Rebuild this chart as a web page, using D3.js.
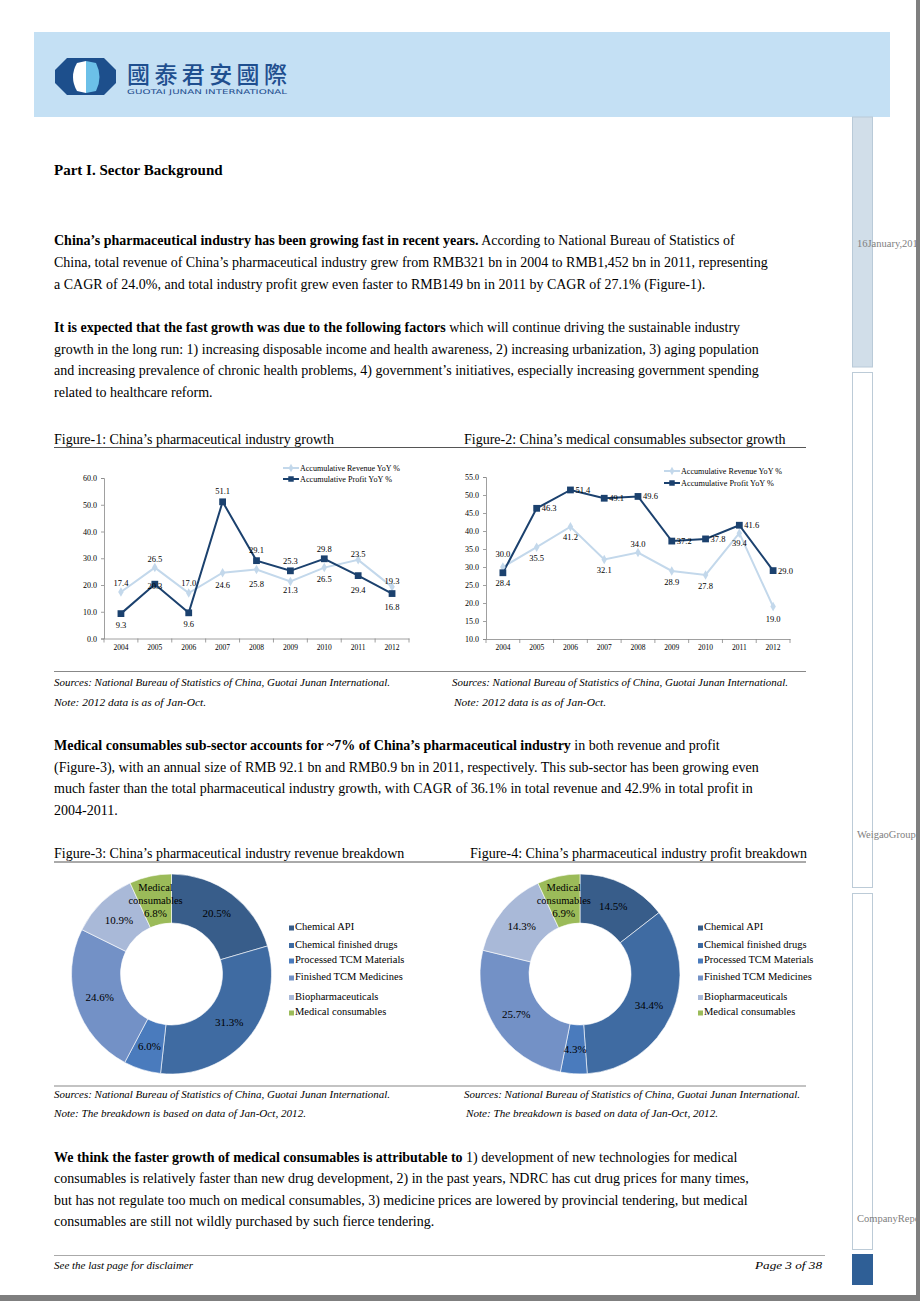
<!DOCTYPE html>
<html><head><meta charset="utf-8">
<script src="https://cdn.jsdelivr.net/npm/d3@7"></script>
<style>body{margin:0;background:#fff}svg{display:block}</style>
</head><body><svg id="page" width="920" height="1301"></svg>
<script>
// ---------------- DATA ----------------
const years = ["2004","2005","2006","2007","2008","2009","2010","2011","2012"];
const fig1Revenue = [17.4,26.5,17.0,24.6,25.8,21.3,26.5,29.4,19.3];
const fig1Profit  = [9.3,20.3,9.6,51.1,29.1,25.3,29.8,23.5,16.8];
const fig1Ticks   = [0,10,20,30,40,50,60];
const fig2Revenue = [30.0,35.5,41.2,32.1,34.0,28.9,27.8,39.4,19.0];
const fig2Profit  = [28.4,46.3,51.4,49.1,49.6,37.2,37.8,41.6,29.0];
const fig2Ticks   = [10,15,20,25,30,35,40,45,50,55];
const seriesNames = ["Accumulative Revenue YoY %","Accumulative Profit YoY %"];
const segments = ["Chemical API","Chemical finished drugs","Processed TCM Materials","Finished TCM Medicines","Biopharmaceuticals","Medical consumables"];
const revenueShare = [20.5,31.3,6.0,24.6,10.9,6.8];
const profitShare  = [14.5,34.4,4.3,25.7,14.3,6.9];

// label placement (layout only)
const fig1RevLbl = [[0,-9],[0,-9],[0,-10],[0,12],[0,15],[0,9],[0,11],[0,30],[0,-6]];
const fig1ProLbl = [[0,11],[0,2],[0,11],[0,-11],[0,-11],[0,-10],[0,-10],[0,-22],[0,13]];
const fig2RevLbl = [[0,-13],[0,11],[0,10],[0,11],[0,-9],[0,11],[0,11],[0,10],[0,12]];
const fig2ProLbl = [[0,10],[5,0],[5,0],[5,0],[5,0],[5,0],[5,0],[5,0],[5,0]];

const SERIF = "'Liberation Serif','Times New Roman',serif";
const svg = d3.select("#page");

// ---------------- PAGE FRAME ----------------
svg.append("rect").attr("x",0).attr("y",0).attr("width",920).attr("height",1301).attr("fill","#fff");
svg.append("rect").attr("x",916).attr("y",0).attr("width",4).attr("height",1301).attr("fill","#7f7f7f");
svg.append("rect").attr("x",0).attr("y",1295).attr("width",920).attr("height",6).attr("fill","#7f7f7f");

// header band
svg.append("rect").attr("x",34).attr("y",32).attr("width",856).attr("height",85).attr("fill","#c4e0f4");
// logo
const logo = svg.append("g");
logo.append("polygon").attr("points","67,58 104,58 116,70 116,83 104,95 67,95 55,83 55,70").attr("fill","#1d4f8c");
logo.append("path").attr("d","M86,61 L77,63 Q69,77 77,91 L86,93 Z").attr("fill","#ffffff");
logo.append("path").attr("d","M86,61 L96,63 Q103,77 96,91 L86,93 Z").attr("fill","#6cc0e8");
svg.append("text").attr("x",127).attr("y",82.5).attr("font-family","'Noto Sans CJK TC','Noto Sans CJK SC',sans-serif")
  .attr("font-size",23).attr("font-weight",500).attr("fill","#1f4f8f").attr("textLength",160).attr("lengthAdjust","spacing")
  .text("國泰君安國際");
svg.append("text").attr("x",127).attr("y",94).attr("font-family","'DejaVu Sans',sans-serif")
  .attr("font-size",6.5).attr("fill","#1f4f8f").attr("textLength",160).attr("lengthAdjust","spacingAndGlyphs")
  .text("GUOTAI JUNAN INTERNATIONAL");

// sidebar
svg.append("rect").attr("x",852.5).attr("y",117).attr("width",20).attr("height",250).attr("fill","#d1dee9").attr("stroke","#b9cad8");
svg.append("rect").attr("x",852.5).attr("y",372.5).attr("width",20).attr("height",515).attr("fill","#fff").attr("stroke","#bccbd7");
svg.append("rect").attr("x",852.5).attr("y",893.5).attr("width",20).attr("height",356).attr("fill","#fff").attr("stroke","#bccbd7");
svg.append("rect").attr("x",852).attr("y",1254).attr("width",21).attr("height",31).attr("fill","#2f5f96");
const clip = svg.append("defs").append("clipPath").attr("id","sideclip");
clip.append("rect").attr("x",840).attr("y",0).attr("width",76).attr("height",1301);
const side = svg.append("g").attr("clip-path","url(#sideclip)").attr("font-family",SERIF).attr("font-size",10.5).attr("fill","#808080");
side.append("text").attr("x",857).attr("y",247).text("16January,2013");
side.append("text").attr("x",857).attr("y",838).text("WeigaoGroup");
side.append("text").attr("x",857).attr("y",1222).text("CompanyReport");

// ---------------- TEXT ----------------
function para(lines, y0, lh){
  lines.forEach((ln,i)=>{
    const t = svg.append("text").attr("x",54).attr("y",y0+i*lh).attr("font-family",SERIF).attr("font-size",14).attr("fill","#000");
    ln.forEach(([s,b])=>t.append("tspan").attr("font-weight",b?"bold":"normal").text(s));
  });
}
svg.append("text").attr("x",54).attr("y",175).attr("font-family",SERIF).attr("font-size",15).attr("font-weight","bold").text("Part  I. Sector Background");
para([
 [["China’s pharmaceutical industry has been growing fast in recent years.",1],[" According to National Bureau of Statistics of",0]],
 [["China, total revenue of China’s pharmaceutical industry grew from RMB321 bn in 2004 to RMB1,452 bn in 2011, representing",0]],
 [["a CAGR  of 24.0%, and total industry profit grew even faster to RMB149  bn in 2011 by CAGR  of 27.1% (Figure-1).",0]]
],245,22);
para([
 [["It is expected that the fast growth was due to the following factors",1],[" which will continue driving the sustainable industry",0]],
 [["growth in the long run: 1) increasing disposable income and health awareness, 2) increasing urbanization, 3) aging population",0]],
 [["and increasing prevalence of chronic health problems, 4) government’s initiatives, especially increasing government spending",0]],
 [["related to healthcare reform.",0]]
],332,21.7);
para([
 [["Medical consumables sub-sector accounts for ~7% of China’s pharmaceutical industry",1],[" in both revenue and profit",0]],
 [["(Figure-3), with an annual size of RMB  92.1 bn and RMB0.9  bn in 2011, respectively. This sub-sector has been growing even",0]],
 [["much faster than the total pharmaceutical industry growth, with CAGR of 36.1% in total revenue and 42.9% in total profit in",0]],
 [["2004-2011.",0]]
],750,21.7);
para([
 [["We think the faster growth of medical consumables is attributable to",1],[" 1) development of new technologies for medical",0]],
 [["consumables is relatively  faster than new drug development, 2) in the past years, NDRC has cut drug prices for many times,",0]],
 [["but has not regulate  too much on medical consumables, 3) medicine prices are lowered by provincial tendering, but medical",0]],
 [["consumables are still not wildly purchased by such fierce tendering.",0]]
],1162,21.4);

function title(x,y,s){svg.append("text").attr("x",x).attr("y",y).attr("font-family",SERIF).attr("font-size",14).text(s);}
title(54,444,"Figure-1: China’s pharmaceutical industry growth");
title(464,444,"Figure-2: China’s medical consumables subsector growth");
title(54,858,"Figure-3: China’s pharmaceutical industry revenue breakdown");
title(470,858,"Figure-4: China’s pharmaceutical industry profit breakdown");
function hline(x1,x2,y,c,w){svg.append("line").attr("x1",x1).attr("x2",x2).attr("y1",y).attr("y2",y).attr("stroke",c).attr("stroke-width",w);}
hline(54,806,447.5,"#555",1);
hline(54,806,862,"#555",1);
hline(54,806,671.5,"#888",1.2);
hline(54,806,1086,"#888",1.2);
hline(54,825,1255.5,"#aaa",1);

function small(x,y,s,len){const t=svg.append("text").attr("x",x).attr("y",y).attr("font-family",SERIF).attr("font-size",9.5).attr("font-style","italic").text(s);
  if(len) t.attr("textLength",len).attr("lengthAdjust","spacingAndGlyphs"); return t;}
const SRC = "Sources: National Bureau of Statistics of China, Guotai Junan International.";
small(54,685.5,SRC,336); small(452,685.5,SRC,336);
small(54,705.5,"Note:   2012 data is as of Jan-Oct.",152); small(454,705.5,"Note:   2012 data is as of Jan-Oct.",152);
small(54,1097.5,SRC,336); small(464,1097.5,SRC,336);
small(54,1116.5,"Note:   The breakdown is based on data of Jan-Oct, 2012.",252); small(466,1116.5,"Note:   The breakdown is based on data of Jan-Oct, 2012.",252);
small(54,1268.5,"See the last page for disclaimer",139);
small(822,1268.5,"Page 3 of 38",67).attr("text-anchor","end");

// ---------------- LINE CHARTS ----------------
const REV_C = "#c3d8eb", PRO_C = "#1b416e";
function lineChart(c){
  const g = svg.append("g").attr("font-family",SERIF);
  const xb = d3.scaleBand().domain(years).range([c.x0,c.x1]);
  const cx = d => xb(d)+xb.bandwidth()/2;
  const y = d3.scaleLinear().domain([c.min,c.max]).range([c.yb,c.yt]);
  const ya = g.append("g").attr("transform",`translate(${c.x0},0)`)
    .call(d3.axisLeft(y).tickValues(c.ticks).tickFormat(d3.format(".1f")).tickSize(3).tickPadding(4));
  const xa = g.append("g").attr("transform",`translate(0,${c.yb})`)
    .call(d3.axisBottom(xb).tickSize(0).tickPadding(6));
  [ya,xa].forEach(a=>{a.selectAll("path,line").attr("stroke","#888").attr("stroke-width",0.8);
    a.selectAll("text").attr("font-family",SERIF).attr("fill","#000");});
  ya.selectAll("text").attr("font-size",8);
  xa.selectAll("text").attr("font-size",7.5);
  years.concat([null]).forEach(d=>{
    const xx = d===null? c.x1 : xb(d);
    g.append("line").attr("x1",xx).attr("x2",xx).attr("y1",c.yb).attr("y2",c.yb+4).attr("stroke","#888").attr("stroke-width",0.8);
  });
  const line = d3.line().x((v,i)=>cx(years[i])).y(v=>y(v));
  g.append("path").attr("d",line(c.rev)).attr("fill","none").attr("stroke",REV_C).attr("stroke-width",2);
  g.append("path").attr("d",line(c.pro)).attr("fill","none").attr("stroke",PRO_C).attr("stroke-width",2);
  const dia = d3.symbol(d3.symbolDiamond,26)(), sq = d3.symbol(d3.symbolSquare,46)();
  c.rev.forEach((v,i)=>g.append("path").attr("d",dia).attr("transform",`translate(${cx(years[i])},${y(v)})`).attr("fill",REV_C));
  c.pro.forEach((v,i)=>g.append("path").attr("d",sq).attr("transform",`translate(${cx(years[i])},${y(v)})`).attr("fill",PRO_C));
  const lbl = (v,i,o)=>g.append("text").attr("x",cx(years[i])+o[0]).attr("y",y(v)+o[1])
    .attr("dy","0.35em").attr("text-anchor",o[0]>0?"start":"middle").attr("font-size",8.5).text(d3.format(".1f")(v));
  c.rev.forEach((v,i)=>lbl(v,i,c.revL[i]));
  c.pro.forEach((v,i)=>lbl(v,i,c.proL[i]));
  // legend
  [[REV_C,c.ly1,c.lw1],[PRO_C,c.ly2,c.lw2]].forEach(([col,ly,lw],k)=>{
    g.append("line").attr("x1",c.lx).attr("x2",c.lx+16).attr("y1",ly).attr("y2",ly).attr("stroke",col).attr("stroke-width",2);
    g.append("path").attr("d",k===0?d3.symbol(d3.symbolDiamond,20)():d3.symbol(d3.symbolSquare,30)()).attr("transform",`translate(${c.lx+8},${ly})`).attr("fill",col);
    g.append("text").attr("x",c.lx+17).attr("y",ly).attr("dy","0.35em").attr("font-size",7.5)
      .attr("textLength",lw).attr("lengthAdjust","spacingAndGlyphs").text(seriesNames[k]);
  });
}
lineChart({x0:104,x1:409,yb:638.5,yt:478,min:0,max:60,ticks:fig1Ticks,rev:fig1Revenue,pro:fig1Profit,
  revL:fig1RevLbl,proL:fig1ProLbl,lx:283,ly1:468,ly2:479,lw1:100,lw2:92});
lineChart({x0:486,x1:790,yb:639,yt:477,min:10,max:55,ticks:fig2Ticks,rev:fig2Revenue,pro:fig2Profit,
  revL:fig2RevLbl,proL:fig2ProLbl,lx:664,ly1:471,ly2:483,lw1:101,lw2:93});

// ---------------- DONUTS ----------------
const segColors = ["#385d8a","#3f6ba2","#4a7bbd","#7391c6","#a9b9d8","#9bbb59"];
function donut(cx,cy,vals,lx){
  const g = svg.append("g").attr("transform",`translate(${cx},${cy})`).attr("font-family",SERIF);
  const pie = d3.pie().sort(null).value(d=>d)(vals);
  const arc = d3.arc().innerRadius(51).outerRadius(100);
  const lab = d3.arc().innerRadius(75.5).outerRadius(75.5);
  g.selectAll("path.s").data(pie).join("path").attr("d",arc).attr("fill",(d,i)=>segColors[i]).attr("stroke","#fff").attr("stroke-width",0.6);
  pie.forEach((d,i)=>{
    const [px,py] = lab.centroid(d);
    const pct = d3.format(".1f")(vals[i])+"%";
    if(i===5){
      ["Medical","consumables",pct].forEach((s,k)=>g.append("text").attr("x",px).attr("y",py+(k-1)*13).attr("dy","0.35em")
        .attr("text-anchor","middle").attr("font-size",k===2?11:10.5).text(s));
    } else {
      g.append("text").attr("x",px).attr("y",py).attr("dy","0.35em").attr("text-anchor","middle").attr("font-size",11).text(pct);
    }
  });
  const ly = [926.5,944,959.5,976.5,996,1011.5];
  segments.forEach((s,i)=>{
    svg.append("rect").attr("x",lx).attr("y",ly[i]-1).attr("width",5).attr("height",5).attr("fill",segColors[i]);
    svg.append("text").attr("x",lx+6).attr("y",ly[i]).attr("dy","0.35em").attr("font-family",SERIF).attr("font-size",10.5).text(s);
  });
}
donut(171.5,974,revenueShare,289);
donut(580,974,profitShare,698);
</script></body></html>
